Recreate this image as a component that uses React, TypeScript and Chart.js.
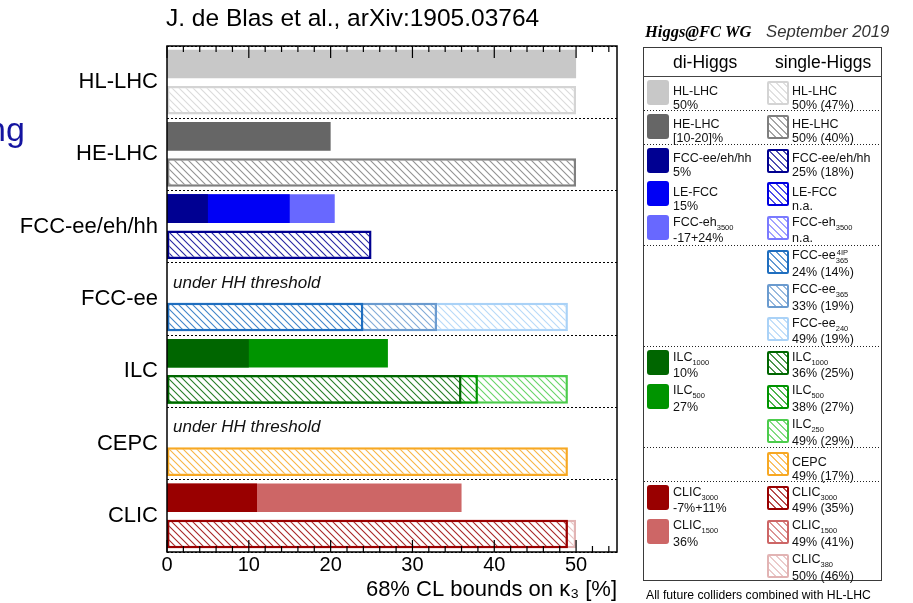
import React, { useEffect, useRef } from 'react';
import { Chart, registerables } from 'chart.js';
Chart.register(...registerables);

const FONT = '"Liberation Sans", Arial, Helvetica, sans-serif';
const SERIF = '"Liberation Serif", "Times New Roman", serif';

// ---------- data ----------
const colliders = ['HL-LHC', 'HE-LHC', 'FCC-ee/eh/hh', 'FCC-ee', 'ILC', 'CEPC', 'CLIC'];
const belowThreshold = ['FCC-ee', 'CEPC'];
const thresholdNote = 'under HH threshold';

// di-Higgs
const diNames = ['HL-LHC', 'HE-LHC', 'FCC-ee/eh/hh', 'LE-FCC', 'FCC-eh', 'ILC', 'ILC', 'CLIC', 'CLIC'];
const diSubs = ['', '', '', '', '3500', '1000', '500', '3000', '1500'];
const diCollider = ['HL-LHC', 'HE-LHC', 'FCC-ee/eh/hh', 'FCC-ee/eh/hh', 'FCC-ee/eh/hh', 'ILC', 'ILC', 'CLIC', 'CLIC'];
const diValues = [50, 20, 5, 15, 20.5, 10, 27, 11, 36];
const diTexts = ['50%', '[10-20]%', '5%', '15%', '-17+24%', '10%', '27%', '-7%+11%', '36%'];
const diColors = ['#c8c8c8', '#666666', '#000092', '#0000f5', '#6868ff', '#006600', '#009400', '#990000', '#cd6666'];

// single-Higgs
const sgNames = ['HL-LHC', 'HE-LHC', 'FCC-ee/eh/hh', 'LE-FCC', 'FCC-eh', 'FCC-ee', 'FCC-ee', 'FCC-ee', 'ILC', 'ILC', 'ILC', 'CEPC', 'CLIC', 'CLIC', 'CLIC'];
const sgSubs = ['', '', '', '', '3500', '365', '365', '240', '1000', '500', '250', '', '3000', '1500', '380'];
const sgSups = ['', '', '', '', '', '4IP', '', '', '', '', '', '', '', '', ''];
const sgCollider = ['HL-LHC', 'HE-LHC', 'FCC-ee/eh/hh', 'FCC-ee/eh/hh', 'FCC-ee/eh/hh', 'FCC-ee', 'FCC-ee', 'FCC-ee', 'ILC', 'ILC', 'ILC', 'CEPC', 'CLIC', 'CLIC', 'CLIC'];
const sgValues: (number | null)[] = [50, 50, 25, null, null, 24, 33, 49, 36, 38, 49, 49, 49, 49, 50];
const sgTexts = ['50% (47%)', '50% (40%)', '25% (18%)', 'n.a.', 'n.a.', '24% (14%)', '33% (19%)', '49% (19%)', '36% (25%)', '38% (27%)', '49% (29%)', '49% (17%)', '49% (35%)', '49% (41%)', '50% (46%)'];
const sgColors = ['#d4d4d4', '#7f7f7f', '#000090', '#0000e0', '#7a7aff', '#1f6ebf', '#6b9bcf', '#aad2f7', '#006600', '#009400', '#4ccc4c', '#f7a823', '#990000', '#cd6666', '#e2b4b4'];

const xMin = 0;
const xMax = 55;
const xStep = 10;
const xMinorStep = 2;
const xTitle = '68% CL bounds on κ₃ [%]';
const titleText = 'J. de Blas et al., arXiv:1905.03764';

// ---------- helpers ----------
function rgba(hex: string, a: number) {
  const h = hex.replace('#', '');
  const r = parseInt(h.slice(0, 2), 16), g = parseInt(h.slice(2, 4), 16), b = parseInt(h.slice(4, 6), 16);
  return `rgba(${r},${g},${b},${a})`;
}

function makeHatch(color: string) {
  const s = 7;
  const c = document.createElement('canvas');
  c.width = s; c.height = s;
  const g = c.getContext('2d')!;
  g.fillStyle = '#ffffff';
  g.fillRect(0, 0, s, s);
  g.strokeStyle = rgba(color, 0.85);
  g.lineWidth = 1.1;
  g.beginPath();
  g.moveTo(-1, -1); g.lineTo(s + 1, s + 1);
  g.moveTo(-1, s - 1); g.lineTo(1, s + 1);
  g.moveTo(s - 1, -1); g.lineTo(s + 1, 1);
  g.stroke();
  return g.createPattern(c, 'repeat');
}

const framePlugin = {
  id: 'frame',
  afterDatasetsDraw(chart: any) {
    const { ctx, chartArea: a, scales } = chart;
    const y = scales.y;
    const catH = (a.bottom - a.top) / colliders.length;
    ctx.save();
    ctx.fillStyle = '#111';
    ctx.font = `italic 17px ${FONT}`;
    ctx.textBaseline = 'middle';
    ctx.textAlign = 'left';
    belowThreshold.forEach((name) => {
      const i = colliders.indexOf(name);
      const py = y.getPixelForValue(i) - catH / 4;
      ctx.fillText(thresholdNote, a.left + 6, py + 2);
    });
    ctx.restore();
  },
  afterDraw(chart: any) {
    const { ctx, chartArea: a, scales } = chart;
    const x = scales.x;
    ctx.save();
    ctx.strokeStyle = '#000';
    ctx.lineWidth = 1.5;
    ctx.strokeRect(a.left, a.top, a.right - a.left, a.bottom - a.top);
    ctx.lineWidth = 1.2;
    for (let v = xMin; v <= xMax; v += xMinorStep) {
      const px = x.getPixelForValue(v);
      const len = v % xStep === 0 ? 12 : 6;
      ctx.beginPath();
      ctx.moveTo(px, a.bottom); ctx.lineTo(px, a.bottom - len);
      ctx.moveTo(px, a.top); ctx.lineTo(px, a.top + len);
      ctx.stroke();
    }
    ctx.restore();
  },
};

// text placed by baseline (Liberation Sans metrics)
function T({ x, base, size, children, style }: any) {
  return (
    <div style={{ position: 'absolute', left: x, top: base - 0.8465 * size, fontSize: size, lineHeight: `${size}px`, whiteSpace: 'nowrap', fontFamily: FONT, ...style }}>
      {children}
    </div>
  );
}

function Name({ name, sub, sup }: any) {
  return (
    <span>
      {name}
      {(sub || sup) ? (
        <span style={{ position: 'relative', fontSize: 7.5, verticalAlign: -4 }}>
          {sub}
          {sup ? <span style={{ position: 'absolute', left: 1, top: -10 }}>{sup}</span> : null}
        </span>
      ) : null}
    </span>
  );
}

const LEG_LEFT = 643, LEG_TOP = 47, LEG_W = 239, LEG_H = 534, HEAD_H = 30, ROW_H = 33.75;

function Entry({ x, top, name, sub, sup, text }: any) {
  const hasSub = !!(sub || sup);
  const line = { position: 'absolute' as const, left: 0, height: 14, lineHeight: '14px', whiteSpace: 'nowrap' as const };
  return (
    <div style={{ position: 'absolute', left: x, top: top + 6.6, fontSize: 12.5, fontFamily: FONT, color: '#111' }}>
      <div style={{ ...line, top: hasSub ? -4 : 0 }}><Name name={name} sub={sub} sup={sup} /></div>
      <div style={{ ...line, top: hasSub ? 12.5 : 14 }}>{text}</div>
    </div>
  );
}

function Legend() {
  const items: any[] = [];
  const seps: number[] = [];
  let k = 0;
  colliders.forEach((c) => {
    const di = diNames.map((_, i) => i).filter((i) => diCollider[i] === c);
    const sg = sgNames.map((_, i) => i).filter((i) => sgCollider[i] === c);
    const n = Math.max(di.length, sg.length);
    for (let r = 0; r < n; r++) {
      const top = LEG_TOP + HEAD_H + ROW_H * (k + r);
      if (r < di.length) {
        const i = di[r];
        items.push(
          <div key={`d${i}`}>
            <div style={{ position: 'absolute', left: 647, top: top + 3, width: 22, height: 25, borderRadius: 3, background: diColors[i] }} />
            <Entry x={673} top={top} name={diNames[i]} sub={diSubs[i]} text={diTexts[i]} />
          </div>
        );
      }
      if (r < sg.length) {
        const i = sg[r];
        items.push(
          <div key={`s${i}`}>
            <div style={{ position: 'absolute', left: 767, top: top + 4, width: 22, height: 24, boxSizing: 'border-box', border: `2px solid ${sgColors[i]}`, borderRadius: 2, background: `repeating-linear-gradient(45deg, #fff 0 3.7px, ${rgba(sgColors[i], 0.7)} 3.7px 4.95px)` }} />
            <Entry x={792} top={top} name={sgNames[i]} sub={sgSubs[i]} sup={sgSups[i]} text={sgTexts[i]} />
          </div>
        );
      }
    }
    k += n;
    seps.push(LEG_TOP + HEAD_H + ROW_H * k);
  });
  seps.pop();
  return (
    <>
      <div style={{ position: 'absolute', left: LEG_LEFT, top: LEG_TOP, width: LEG_W, height: LEG_H, boxSizing: 'border-box', border: '1.5px solid #3a3a3a' }} />
      <div style={{ position: 'absolute', left: LEG_LEFT, top: LEG_TOP + HEAD_H - 1, width: LEG_W, height: 1, background: '#444' }} />
      <T x={673} base={69} size={17.5}>di-Higgs</T>
      <T x={775} base={69} size={17.5}>single-Higgs</T>
      {seps.map((y, i) => (
        <div key={`sep${i}`} style={{ position: 'absolute', left: LEG_LEFT + 1, top: y - 1, width: LEG_W - 2, height: 1, background: 'repeating-linear-gradient(90deg, #222 0 1.5px, transparent 1.5px 3px)' }} />
      ))}
      {items}
    </>
  );
}

export default function App() {
  const ref = useRef<HTMLCanvasElement>(null);
  useEffect(() => {
    const datasets: any[] = [];
    diValues.forEach((v, i) => {
      const row = colliders.indexOf(diCollider[i]);
      datasets.push({
        label: diNames[i] + diSubs[i],
        data: colliders.map((_, r) => (r === row ? [0, v] : null)),
        stack: 'di',
        backgroundColor: diColors[i],
        borderWidth: 0,
        categoryPercentage: 1,
        barPercentage: 0.79,
      });
    });
    sgValues.forEach((v, i) => {
      if (v == null) return;
      const row = colliders.indexOf(sgCollider[i]);
      datasets.push({
        label: sgNames[i] + sgSubs[i],
        data: colliders.map((_, r) => (r === row ? [0, v] : null)),
        stack: 'single',
        backgroundColor: makeHatch(sgColors[i]),
        borderColor: sgColors[i],
        borderWidth: 2.5,
        borderSkipped: false,
        categoryPercentage: 1,
        barPercentage: 0.79,
      });
    });
    const chart = new Chart(ref.current!, {
      type: 'bar',
      data: { labels: colliders, datasets },
      options: {
        indexAxis: 'y',
        responsive: false,
        animation: false,
        events: [],
        layout: { padding: { left: 0, right: 296, top: 46, bottom: 0 } },
        plugins: { legend: { display: false }, tooltip: { enabled: false }, title: { display: false } },
        scales: {
          x: {
            type: 'linear',
            min: xMin,
            max: xMax,
            stacked: false,
            grid: { display: false, drawTicks: false },
            border: { display: false },
            ticks: { stepSize: xStep, includeBounds: false, padding: 1, color: '#000', font: { size: 20, family: FONT } },
            title: { display: true, text: xTitle, align: 'end', color: '#000', font: { size: 22, family: FONT }, padding: { top: 0, bottom: 0 } },
            afterFit: (s: any) => { s.height = 51; },
          },
          y: {
            type: 'category',
            grid: { color: '#000', lineWidth: 1, drawTicks: false, offset: true },
            border: { display: false, dash: [2, 2] },
            ticks: { padding: 9, color: '#000', font: { size: 22, family: FONT } },
            afterFit: (s: any) => { s.width = 167; },
          },
        },
      } as any,
      plugins: [framePlugin],
    });
    return () => chart.destroy();
  }, []);

  return (
    <div style={{ position: 'absolute', left: 0, top: 0, width: 913, height: 603, background: '#fff', overflow: 'hidden', fontFamily: FONT }}>
      <canvas ref={ref} width={913} height={603} style={{ position: 'absolute', left: 0, top: 0 }} />
      <T x={-13} base={141} size={34} style={{ color: '#1414a0' }}>ng</T>
      <T x={166} base={27} size={24.5}>{titleText}</T>
      <T x={645} base={38} size={16.5} style={{ fontFamily: SERIF, fontWeight: 'bold', fontStyle: 'italic' }}>Higgs@FC WG</T>
      <T x={766} base={38} size={16.7} style={{ fontStyle: 'italic', color: '#333' }}>September 2019</T>
      <Legend />
      <T x={646} base={599} size={12.2}>All future colliders combined with HL-LHC</T>
    </div>
  );
}
